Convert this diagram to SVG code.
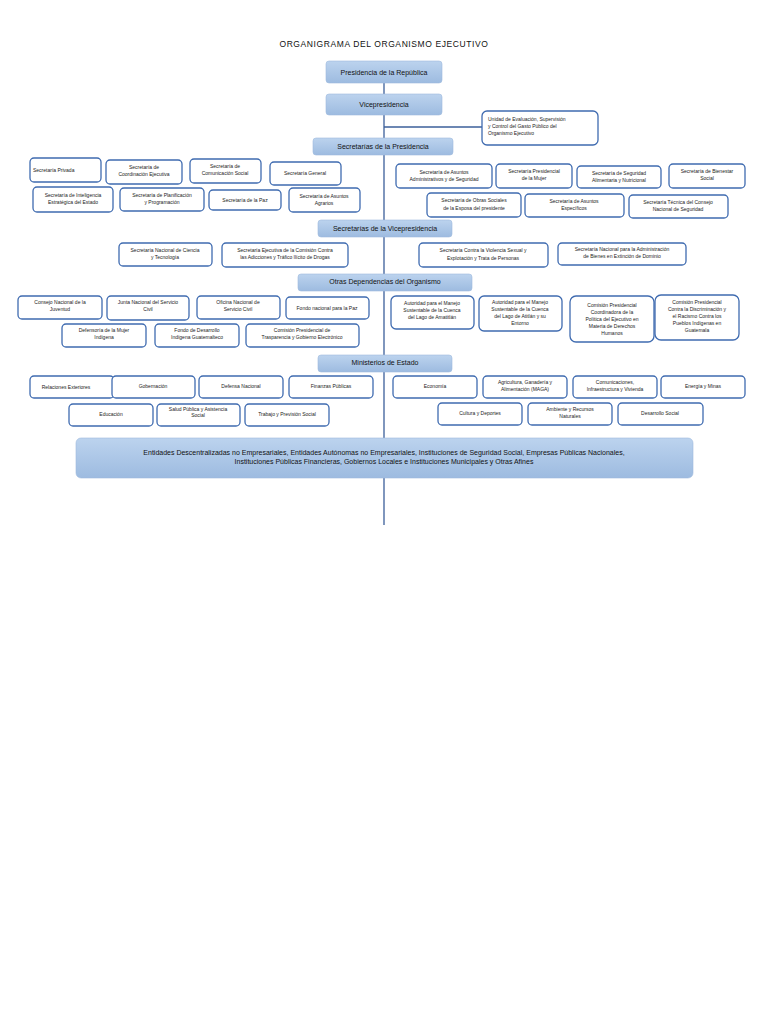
<svg xmlns="http://www.w3.org/2000/svg" width="768" height="1024" viewBox="0 0 768 1024">
<defs>
<linearGradient id="hg" x1="0" y1="0" x2="0" y2="1"><stop offset="0" stop-color="#bcd3ee"/><stop offset="1" stop-color="#9dbbe0"/></linearGradient>
<style>
.b{fill:#fff;stroke:#3f6bb0;stroke-width:1.3}
.h{fill:url(#hg);stroke:#9fbbdd;stroke-width:0.6}
.t{font-family:"Liberation Sans",Arial,sans-serif;font-size:5px;fill:#222;text-anchor:middle}
.ht{font-family:"Liberation Sans",Arial,sans-serif;font-size:7px;fill:#111;text-anchor:middle}
.c{stroke:#3b5f9a;stroke-width:1.3;fill:none}
</style>
</defs>
<rect width="768" height="1024" fill="#fff"/>
<text x="384" y="47" style="font-family:'Liberation Sans',Arial,sans-serif;font-size:8.5px;letter-spacing:0.6px;text-anchor:middle;fill:#111">ORGANIGRAMA DEL ORGANISMO EJECUTIVO</text>
<g id="connectors">
<line class="c" x1="384" y1="83" x2="384" y2="525"/>
<line class="c" x1="384" y1="127" x2="482" y2="127"/>
</g>
<g id="presidencia"><rect class="h" x="326" y="61" width="116" height="22" rx="3"/><text class="ht" x="384" y="75">Presidencia de la República</text></g>
<g id="vicepresidencia"><rect class="h" x="326" y="94" width="116" height="21" rx="3"/><text class="ht" x="384" y="107">Vicepresidencia</text></g>
<g id="unidad"><rect class="b" x="482" y="111" width="116" height="34" rx="5"/><text class="t" x="488" y="121" style="text-anchor:start">Unidad de Evaluación, Supervisión</text><text class="t" x="488" y="128" style="text-anchor:start">y Control del Gasto Público del</text><text class="t" x="488" y="135" style="text-anchor:start">Organismo Ejecutivo</text></g>
<g id="h-sec-pres"><rect class="h" x="313" y="138" width="140" height="17" rx="3"/><text class="ht" x="383" y="149">Secretarías de la Presidencia</text></g>
<g id="s1"><rect class="b" x="30" y="158" width="71" height="24" rx="4"/><text class="t" x="33" y="172" style="text-anchor:start">Secretaría Privada</text></g>
<g id="s2"><rect class="b" x="106" y="160" width="76" height="24" rx="4"/><text class="t" x="144" y="169">Secretaría de</text><text class="t" x="144" y="176">Coordinación Ejecutiva</text></g>
<g id="s3"><rect class="b" x="190" y="159" width="71" height="24" rx="4"/><text class="t" x="225" y="168">Secretaría de</text><text class="t" x="225" y="175">Comunicación Social</text></g>
<g id="s4"><rect class="b" x="270" y="162" width="71" height="23" rx="4"/><text class="t" x="305" y="175">Secretaría General</text></g>
<g id="s5"><rect class="b" x="33" y="187" width="80" height="25" rx="4"/><text class="t" x="73" y="197">Secretaría de Inteligencia</text><text class="t" x="73" y="204">Estratégica del Estado</text></g>
<g id="s6"><rect class="b" x="120" y="188" width="84" height="23" rx="4"/><text class="t" x="162" y="197">Secretaría de Planificación</text><text class="t" x="162" y="204">y Programación</text></g>
<g id="s7"><rect class="b" x="209" y="190" width="72" height="20" rx="4"/><text class="t" x="245" y="202">Secretaría de la Paz</text></g>
<g id="s8"><rect class="b" x="289" y="188" width="71" height="24" rx="4"/><text class="t" x="324" y="198">Secretaría de Asuntos</text><text class="t" x="324" y="205">Agrarios</text></g>
<g id="s9"><rect class="b" x="396" y="164" width="96" height="24" rx="4"/><text class="t" x="444" y="174">Secretaría de Asuntos</text><text class="t" x="444" y="181">Administrativos y de Seguridad</text></g>
<g id="s10"><rect class="b" x="496" y="164" width="76" height="24" rx="4"/><text class="t" x="534" y="173">Secretaría Presidencial</text><text class="t" x="534" y="180">de la Mujer</text></g>
<g id="s11"><rect class="b" x="577" y="166" width="84" height="22" rx="4"/><text class="t" x="619" y="175">Secretaría de Seguridad</text><text class="t" x="619" y="182">Alimentaria y Nutricional</text></g>
<g id="s12"><rect class="b" x="669" y="164" width="76" height="24" rx="4"/><text class="t" x="707" y="173">Secretaría de Bienestar</text><text class="t" x="707" y="180">Social</text></g>
<g id="s13"><rect class="b" x="427" y="193" width="94" height="24" rx="4"/><text class="t" x="474" y="202">Secretaría de Obras Sociales</text><text class="t" x="474" y="210">de la Esposa del presidente</text></g>
<g id="s14"><rect class="b" x="525" y="194" width="99" height="23" rx="4"/><text class="t" x="574" y="203">Secretaría de Asuntos</text><text class="t" x="574" y="210">Específicos</text></g>
<g id="s15"><rect class="b" x="629" y="195" width="99" height="23" rx="4"/><text class="t" x="678" y="204">Secretaría Técnica del Consejo</text><text class="t" x="678" y="211">Nacional de Seguridad</text></g>
<g id="h-sec-vice"><rect class="h" x="318" y="220" width="134" height="17" rx="3"/><text class="ht" x="385" y="231">Secretarías de la Vicepresidencia</text></g>
<g id="v1"><rect class="b" x="119" y="243" width="93" height="23" rx="4"/><text class="t" x="165" y="252">Secretaría Nacional de Ciencia</text><text class="t" x="165" y="259">y Tecnología</text></g>
<g id="v2"><rect class="b" x="222" y="243" width="126" height="24" rx="4"/><text class="t" x="285" y="252">Secretaría Ejecutiva de la Comisión Contra</text><text class="t" x="285" y="259">las Adicciones y Tráfico Ilícito de Drogas</text></g>
<g id="v3"><rect class="b" x="419" y="243" width="129" height="24" rx="4"/><text class="t" x="483" y="252">Secretaría Contra la Violencia Sexual y</text><text class="t" x="483" y="260">Explotación y Trata de Personas</text></g>
<g id="v4"><rect class="b" x="558" y="243" width="128" height="22" rx="4"/><text class="t" x="622" y="251">Secretaría Nacional para la Administración</text><text class="t" x="622" y="258">de Bienes en Extinción de Dominio</text></g>
<g id="h-otras"><rect class="h" x="298" y="274" width="174" height="17" rx="3"/><text class="ht" x="385" y="284">Otras Dependencias del Organismo</text></g>
<g id="o1"><rect class="b" x="18" y="296" width="84" height="23" rx="4"/><text class="t" x="60" y="304">Consejo Nacional de la</text><text class="t" x="60" y="311">Juventud</text></g>
<g id="o2"><rect class="b" x="107" y="296" width="82" height="24" rx="4"/><text class="t" x="148" y="304">Junta Nacional del Servicio</text><text class="t" x="148" y="311">Civil</text></g>
<g id="o3"><rect class="b" x="197" y="296" width="83" height="23" rx="4"/><text class="t" x="238" y="304">Oficina Nacional de</text><text class="t" x="238" y="311">Servicio Civil</text></g>
<g id="o4"><rect class="b" x="286" y="297" width="83" height="22" rx="4"/><text class="t" x="327" y="310">Fondo nacional para la Paz</text></g>
<g id="o5"><rect class="b" x="62" y="324" width="84" height="23" rx="4"/><text class="t" x="104" y="332">Defensoría de la Mujer</text><text class="t" x="104" y="339">Indígena</text></g>
<g id="o6"><rect class="b" x="155" y="324" width="84" height="23" rx="4"/><text class="t" x="197" y="332">Fondo de Desarrollo</text><text class="t" x="197" y="339">Indígena Guatemalteco</text></g>
<g id="o7"><rect class="b" x="246" y="324" width="113" height="23" rx="4"/><text class="t" x="302" y="332">Comisión Presidencial de</text><text class="t" x="302" y="339">Trasparencia y Gobierno Electrónico</text></g>
<g id="o8"><rect class="b" x="391" y="296" width="83" height="33" rx="5"/><text class="t" x="432" y="305">Autoridad para el Manejo</text><text class="t" x="432" y="312">Sustentable de la Cuenca</text><text class="t" x="432" y="319">del Lago de Amatitlán</text></g>
<g id="o9"><rect class="b" x="479" y="296" width="83" height="35" rx="5"/><text class="t" x="520" y="304">Autoridad para el Manejo</text><text class="t" x="520" y="311">Sustentable de la Cuenca</text><text class="t" x="520" y="318">del Lago de Atitlán y su</text><text class="t" x="520" y="325">Entorno</text></g>
<g id="o10"><rect class="b" x="570" y="296" width="84" height="46" rx="6"/><text class="t" x="612" y="307">Comisión Presidencial</text><text class="t" x="612" y="314">Coordinadora de la</text><text class="t" x="612" y="321">Política del Ejecutivo en</text><text class="t" x="612" y="328">Materia de Derechos</text><text class="t" x="612" y="335">Humanos</text></g>
<g id="o11"><rect class="b" x="655" y="295" width="84" height="45" rx="6"/><text class="t" x="697" y="304">Comisión Presidencial</text><text class="t" x="697" y="311">Contra la Discriminación y</text><text class="t" x="697" y="318">el Racismo Contra los</text><text class="t" x="697" y="325">Pueblos Indígenas en</text><text class="t" x="697" y="332">Guatemala</text></g>
<g id="h-min"><rect class="h" x="318" y="355" width="134" height="17" rx="3"/><text class="ht" x="385" y="365">Ministerios de Estado</text></g>
<g id="m1"><rect class="b" x="30" y="376" width="84" height="22" rx="4"/><text class="t" x="66" y="389">Relaciones Exteriores</text></g>
<g id="m2"><rect class="b" x="112" y="376" width="83" height="22" rx="4"/><text class="t" x="153" y="388">Gobernación</text></g>
<g id="m3"><rect class="b" x="199" y="376" width="84" height="22" rx="4"/><text class="t" x="241" y="388">Defensa Nacional</text></g>
<g id="m4"><rect class="b" x="289" y="376" width="84" height="22" rx="4"/><text class="t" x="331" y="388">Finanzas Públicas</text></g>
<g id="m5"><rect class="b" x="69" y="404" width="84" height="22" rx="4"/><text class="t" x="111" y="416">Educación</text></g>
<g id="m6"><rect class="b" x="157" y="404" width="83" height="22" rx="4"/><text class="t" x="198" y="411">Salud Pública y Asistencia</text><text class="t" x="198" y="417">Social</text></g>
<g id="m7"><rect class="b" x="245" y="404" width="84" height="22" rx="4"/><text class="t" x="287" y="416">Trabajo y Previsión Social</text></g>
<g id="m8"><rect class="b" x="393" y="376" width="84" height="22" rx="4"/><text class="t" x="435" y="388">Economía</text></g>
<g id="m9"><rect class="b" x="483" y="376" width="84" height="22" rx="4"/><text class="t" x="525" y="384">Agricultura, Ganadería y</text><text class="t" x="525" y="391">Alimentación (MAGA)</text></g>
<g id="m10"><rect class="b" x="573" y="376" width="84" height="22" rx="4"/><text class="t" x="615" y="384">Comunicaciones,</text><text class="t" x="615" y="391">Infraestructura y Vivienda</text></g>
<g id="m11"><rect class="b" x="661" y="376" width="84" height="22" rx="4"/><text class="t" x="703" y="388">Energía y Minas</text></g>
<g id="m12"><rect class="b" x="438" y="403" width="84" height="22" rx="4"/><text class="t" x="480" y="415">Cultura y Deportes</text></g>
<g id="m13"><rect class="b" x="528" y="403" width="84" height="22" rx="4"/><text class="t" x="570" y="411">Ambiente y Recursos</text><text class="t" x="570" y="418">Naturales</text></g>
<g id="m14"><rect class="b" x="618" y="403" width="85" height="22" rx="4"/><text class="t" x="660" y="415">Desarrollo Social</text></g>
<g id="entidades"><rect class="h" x="76" y="438" width="617" height="40" rx="5"/><text class="ht" x="384" y="455">Entidades Descentralizadas no Empresariales, Entidades Autónomas no Empresariales, Instituciones de Seguridad Social, Empresas Públicas Nacionales,</text><text class="ht" x="384" y="464">Instituciones Públicas Financieras, Gobiernos Locales e Instituciones Municipales y Otras Afines</text></g>
</svg>
